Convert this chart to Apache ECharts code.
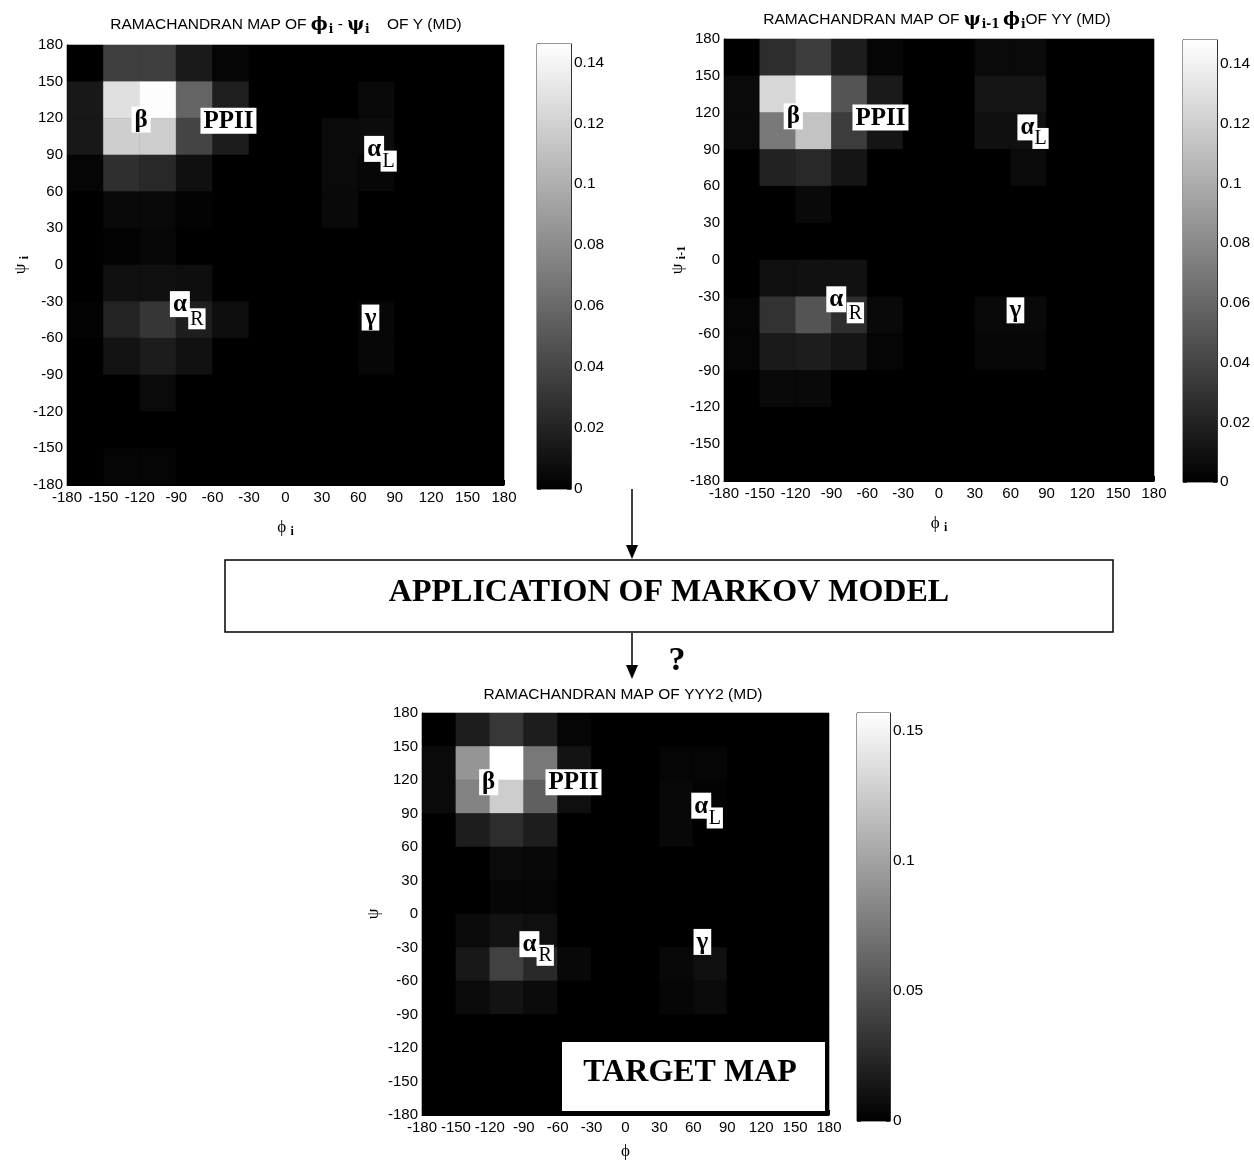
<!DOCTYPE html>
<html>
<head>
<meta charset="utf-8">
<script src="https://cdn.jsdelivr.net/npm/echarts@6/dist/echarts.min.js"></script>
<style>
  html, body { margin: 0; padding: 0; background: #fff; }
  #chart { width: 1254px; height: 1161px; }
</style>
</head>
<body>
<div id="chart"></div>
<script>
// Bin centres (30-degree bins) for phi (columns) and psi (rows, top to bottom)
const phiCenters = [-165, -135, -105, -75, -45, -15, 15, 45, 75, 105, 135, 165];
const psiCenters = [165, 135, 105, 75, 45, 15, -15, -45, -75, -105, -135, -165];

// Population of each (phi, psi) bin, rows from psi = 165 down to psi = -165
const mapY = [
  [0, .036, .036, .015, .003, 0, 0, 0, 0, 0, 0, 0],
  [.014, .128, .145, .057, .017, 0, 0, 0, .005, 0, 0, 0],
  [.014, .118, .118, .039, .016, 0, 0, .006, .007, 0, 0, 0],
  [.003, .027, .023, .009, 0, 0, 0, .006, .004, 0, 0, 0],
  [0, .005, .005, .002, 0, 0, 0, .005, 0, 0, 0, 0],
  [0, .002, .004, 0, 0, 0, 0, 0, 0, 0, 0, 0],
  [0, .009, .009, .008, 0, 0, 0, 0, 0, 0, 0, 0],
  [.002, .020, .031, .017, .008, 0, 0, 0, .004, 0, 0, 0],
  [0, .011, .016, .010, 0, 0, 0, 0, .004, 0, 0, 0],
  [0, 0, .006, 0, 0, 0, 0, 0, 0, 0, 0, 0],
  [0, 0, 0, 0, 0, 0, 0, 0, 0, 0, 0, 0],
  [0, .003, .003, 0, 0, 0, 0, 0, 0, 0, 0, 0]
];
const mapYY = [
  [0, .026, .035, .017, .003, 0, 0, .006, .006, 0, 0, 0],
  [.006, .125, .148, .049, .015, 0, 0, .012, .012, 0, 0, 0],
  [.006, .070, .113, .035, .012, 0, 0, .009, .009, 0, 0, 0],
  [0, .020, .023, .012, 0, 0, 0, 0, .006, 0, 0, 0],
  [0, 0, .005, 0, 0, 0, 0, 0, 0, 0, 0, 0],
  [0, 0, 0, 0, 0, 0, 0, 0, 0, 0, 0, 0],
  [0, .009, .010, .010, 0, 0, 0, 0, 0, 0, 0, 0],
  [.003, .029, .049, .026, .005, 0, 0, .005, .005, 0, 0, 0],
  [.003, .015, .017, .012, .003, 0, 0, .004, .004, 0, 0, 0],
  [0, .005, .005, 0, 0, 0, 0, 0, 0, 0, 0, 0],
  [0, 0, 0, 0, 0, 0, 0, 0, 0, 0, 0, 0],
  [0, 0, 0, 0, 0, 0, 0, 0, 0, 0, 0, 0]
];
const mapYYY2 = [
  [0, .018, .034, .018, .003, 0, 0, 0, 0, 0, 0, 0],
  [.006, .092, .157, .074, .012, 0, 0, .003, .003, 0, 0, 0],
  [.006, .080, .126, .059, .009, 0, 0, .005, .002, 0, 0, 0],
  [0, .018, .028, .018, 0, 0, 0, .005, 0, 0, 0, 0],
  [0, 0, .006, .005, 0, 0, 0, 0, 0, 0, 0, 0],
  [0, 0, .004, .003, 0, 0, 0, 0, 0, 0, 0, 0],
  [0, .007, .012, .009, 0, 0, 0, 0, 0, 0, 0, 0],
  [0, .015, .040, .025, .005, 0, 0, .005, .009, 0, 0, 0],
  [0, .007, .012, .007, 0, 0, 0, .004, .006, 0, 0, 0],
  [0, 0, 0, 0, 0, 0, 0, 0, 0, 0, 0, 0],
  [0, 0, 0, 0, 0, 0, 0, 0, 0, 0, 0, 0],
  [0, 0, 0, 0, 0, 0, 0, 0, 0, 0, 0, 0]
];

// Colour-bar limits and tick steps
const colorMax = [0.146, 0.148, 0.157];
const colorStep = [0.02, 0.02, 0.05];

// Region labels: text, phi, psi, style (m = main symbol, s = subscript)
const annotY = [
  ['β', -119, 119, 'm'], ['PPII', -47, 118, 'm'],
  ['α', 73, 95, 'm'], ['L', 85, 85, 's'],
  ['α', -87, -32, 'm'], ['R', -73, -44, 's'],
  ['γ', 70, -43, 'm']
];
const annotYY = [
  ['β', -122, 117, 'm'], ['PPII', -49, 116, 'm'],
  ['α', 74, 108, 'm'], ['L', 85, 99, 's'],
  ['α', -86, -32, 'm'], ['R', -70, -43, 's'],
  ['γ', 64, -41, 'm']
];
const annotYYY2 = [
  ['β', -121, 118, 'm'], ['PPII', -46, 118, 'm'],
  ['α', 67, 97, 'm'], ['L', 79, 86, 's'],
  ['α', -85, -27, 'm'], ['R', -71, -37, 's'],
  ['γ', 68, -25, 'm']
];

const SANS = 'Liberation Sans';
const SERIF = 'Liberation Serif';

function cells(rows) {
  const out = [];
  rows.forEach((row, i) => row.forEach((v, j) => out.push([phiCenters[j], psiCenters[i], v])));
  return out;
}

function renderCell(params, api) {
  const x = api.value(0), y = api.value(1);
  const a = api.coord([x - 15, y + 15]);
  const b = api.coord([x + 15, y - 15]);
  const c = api.visual('color');
  return {
    type: 'rect',
    shape: { x: a[0], y: a[1], width: b[0] - a[0], height: b[1] - a[1] },
    style: { fill: c, stroke: c, lineWidth: 0.6 }
  };
}

const nameRich = {
  p: { fontFamily: SERIF, fontSize: 17, color: '#000' },
  s: { fontFamily: SERIF, fontSize: 12, fontWeight: 'bold', color: '#000', padding: [9, 0, 0, 1] }
};

function heatX(gi, name, gap) {
  return {
    type: 'value', gridIndex: gi, min: -180, max: 180, interval: 30,
    name: name, nameLocation: 'middle', nameGap: gap,
    nameTextStyle: { rich: nameRich },
    axisLine: { show: true, onZero: false, lineStyle: { color: '#000', width: 1 } },
    axisTick: { show: true, inside: true, length: 5, lineStyle: { color: '#000' } },
    axisLabel: { color: '#000', fontFamily: SANS, fontSize: 15, margin: 5, hideOverlap: false },
    splitLine: { show: false }
  };
}
function heatY(gi, name, gap) {
  return {
    type: 'value', gridIndex: gi, min: -180, max: 180, interval: 30, position: 'left',
    name: name, nameLocation: 'middle', nameGap: gap, nameRotate: 90, nameMoveOverlap: false,
    nameTextStyle: { rich: nameRich },
    axisLine: { show: true, onZero: false, lineStyle: { color: '#000', width: 1 } },
    axisTick: { show: true, inside: true, length: 5, lineStyle: { color: '#000' } },
    axisLabel: { color: '#000', fontFamily: SANS, fontSize: 15, margin: 4, hideOverlap: false },
    splitLine: { show: false }
  };
}
function barX(gi) {
  return { type: 'category', gridIndex: gi, data: [''], show: false };
}
function barY(gi, k, right) {
  return {
    type: 'value', gridIndex: gi, min: 0, max: colorMax[k], interval: colorStep[k],
    position: right ? 'right' : 'left',
    axisLine: { show: true, lineStyle: { color: '#333' } },
    axisTick: { show: true, inside: true, length: 4, lineStyle: { color: '#333' } },
    axisLabel: {
      show: right, color: '#000', fontFamily: SANS, fontSize: 15.5, margin: 3,
      showMaxLabel: false, hideOverlap: false
    },
    splitLine: { show: false }
  };
}

function annotSeries(list, idx) {
  return {
    type: 'scatter', xAxisIndex: idx, yAxisIndex: idx, silent: true, z: 5,
    symbol: 'circle', symbolSize: 2, itemStyle: { color: 'rgba(0,0,0,0)' },
    data: list.map(d => ({ name: d[0], value: [d[1], d[2]], kind: d[3] })),
    label: {
      show: true, position: 'inside', opacity: 1,
      formatter: p => '{' + p.data.kind + '|' + p.name + '}',
      rich: {
        m: { fontFamily: SERIF, fontWeight: 'bold', fontSize: 25, color: '#000',
             backgroundColor: '#fff', padding: [1, 3, 0, 3], lineHeight: 28 },
        s: { fontFamily: SERIF, fontSize: 20, color: '#000',
             backgroundColor: '#fff', padding: [1, 2, 0, 2], lineHeight: 22 }
      }
    },
    labelLayout: { hideOverlap: false }
  };
}

function barSeries(k) {
  return {
    type: 'bar', xAxisIndex: 3 + k, yAxisIndex: 3 + k, silent: true,
    data: [colorMax[k]], barWidth: '100%',
    itemStyle: {
      color: new echarts.graphic.LinearGradient(0, 0, 0, 1, [
        { offset: 0, color: '#ffffff' }, { offset: 1, color: '#000000' }
      ])
    }
  };
}

const maps = [mapY, mapYY, mapYYY2];

const titleRich = {
  n: { fontFamily: SANS, fontSize: 15.5, fill: '#000' },
  g: { fontFamily: 'DejaVu Serif', fontWeight: 'bold', fontSize: 18, fill: '#000' },
  s: { fontFamily: 'DejaVu Serif', fontWeight: 'bold', fontSize: 12, fill: '#000', padding: [9, 0, 0, 1] }
};

const chart = echarts.init(document.getElementById('chart'), null, { renderer: 'canvas' });

chart.setOption({
  animation: false,
  backgroundColor: '#fff',
  grid: [
    { left: 67, top: 45, width: 437, height: 440, show: true, backgroundColor: '#000', borderWidth: 0 },
    { left: 724, top: 39, width: 430, height: 442, show: true, backgroundColor: '#000', borderWidth: 0 },
    { left: 422, top: 713, width: 407, height: 404, show: true, backgroundColor: '#000', borderWidth: 0 },
    { left: 537, top: 44, width: 34, height: 445, show: true, borderColor: '#333', borderWidth: 1 },
    { left: 1183, top: 40, width: 34, height: 442, show: true, borderColor: '#333', borderWidth: 1 },
    { left: 857, top: 713, width: 33, height: 408, show: true, borderColor: '#333', borderWidth: 1 }
  ],
  xAxis: [
    heatX(0, '{p|ϕ} {s|i}', 32),
    heatX(1, '{p|ϕ} {s|i}', 32),
    heatX(2, '{p|ϕ}', 28),
    barX(3), barX(4), barX(5)
  ],
  yAxis: [
    heatY(0, '{p|ψ} {s|i}', 36),
    heatY(1, '{p|ψ} {s|i-1}', 36),
    heatY(2, '{p|ψ}', 40),
    barY(3, 0, true), barY(4, 1, true), barY(5, 2, true),
    barY(3, 0, false), barY(4, 1, false), barY(5, 2, false)
  ],
  visualMap: maps.map((m, k) => ({
    type: 'continuous', show: false, seriesIndex: k, dimension: 2,
    min: 0, max: colorMax[k], inRange: { color: ['#000000', '#ffffff'] }
  })),
  series: [
    ...maps.map((m, k) => ({
      type: 'custom', xAxisIndex: k, yAxisIndex: k, silent: true,
      data: cells(m), encode: { x: 0, y: 1 }, renderItem: renderCell
    })),
    annotSeries(annotY, 0), annotSeries(annotYY, 1), annotSeries(annotYYY2, 2),
    barSeries(0), barSeries(1), barSeries(2)
  ],
  graphic: [
    { type: 'text', x: 286, y: 25, z: 10, style: {
        text: '{n|RAMACHANDRAN MAP OF }{g|ϕ}{s|i}{n| - }{g|ψ}{s|i}{n|    OF Y (MD)}',
        rich: titleRich, align: 'center', verticalAlign: 'middle' } },
    { type: 'text', x: 937, y: 20, z: 10, style: {
        text: '{n|RAMACHANDRAN MAP OF }{g|ψ}{s|i-1} {g|ϕ}{s|i}{n|OF YY (MD)}',
        rich: titleRich, align: 'center', verticalAlign: 'middle' } },
    { type: 'text', x: 623, y: 695, z: 10, style: {
        text: '{n|RAMACHANDRAN MAP OF YYY2 (MD)}',
        rich: titleRich, align: 'center', verticalAlign: 'middle' } },

    // flow: arrow into the model box
    { type: 'line', z: 10, shape: { x1: 632, y1: 489, x2: 632, y2: 548 },
      style: { stroke: '#000', lineWidth: 1.5 } },
    { type: 'polygon', z: 10, shape: { points: [[626, 545], [638, 545], [632, 559]] },
      style: { fill: '#000' } },
    { type: 'rect', z: 10, shape: { x: 225, y: 560, width: 888, height: 72 },
      style: { fill: '#fff', stroke: '#000', lineWidth: 1.5 } },
    { type: 'text', z: 11, x: 669, y: 593, style: {
        text: 'APPLICATION OF MARKOV MODEL', fontFamily: SERIF, fontWeight: 'bold',
        fontSize: 32, fill: '#000', align: 'center', verticalAlign: 'middle' } },
    // arrow out of the model box
    { type: 'line', z: 10, shape: { x1: 632, y1: 633, x2: 632, y2: 668 },
      style: { stroke: '#000', lineWidth: 1.5 } },
    { type: 'polygon', z: 10, shape: { points: [[626, 665], [638, 665], [632, 679]] },
      style: { fill: '#000' } },
    { type: 'text', z: 11, x: 677, y: 661, style: {
        text: '?', fontFamily: SERIF, fontWeight: 'bold', fontSize: 34, fill: '#000',
        align: 'center', verticalAlign: 'middle' } },

    // target label on the lower map
    { type: 'rect', z: 20, shape: { x: 562, y: 1042, width: 263, height: 69 },
      style: { fill: '#fff' } },
    { type: 'text', z: 21, x: 690, y: 1073, style: {
        text: 'TARGET MAP', fontFamily: SERIF, fontWeight: 'bold', fontSize: 32,
        fill: '#000', align: 'center', verticalAlign: 'middle' } }
  ]
});
</script>
</body>
</html>
